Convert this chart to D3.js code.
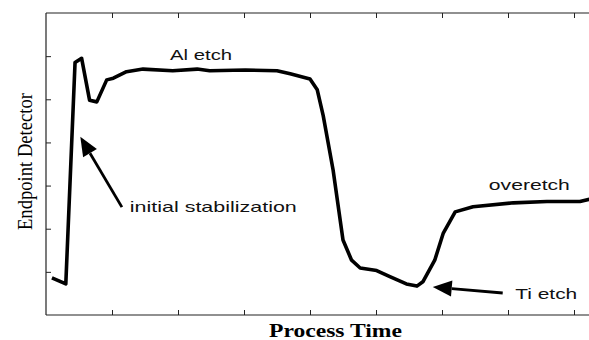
<!DOCTYPE html>
<html>
<head>
<meta charset="utf-8">
<script src="https://cdn.jsdelivr.net/npm/d3@7"></script>
<style>
  html, body { margin: 0; padding: 0; background: #fff; }
  svg { display: block; }
</style>
</head>
<body>
<div id="chart"></div>
<script>
// время процесса (условные единицы) и сигнал детектора
const times = [0.9, 3.0, 4.4, 5.4, 6.6, 7.7, 9.2, 10.2, 12.2, 14.7, 19.2, 22.9, 24.8, 30.2, 35.0, 37.0, 40.0, 41.1, 42.0,
  43.5, 45.0, 46.3, 47.6, 50.1, 52.1, 54.6, 56.2, 57.1, 58.9, 60.2, 62.0, 64.7, 70.8, 75.9, 80.9, 82.5];
const signal = [0.86, 0.72, 5.85, 5.95, 4.98, 4.94, 5.45, 5.49, 5.64, 5.70, 5.66, 5.70, 5.66, 5.68, 5.66, 5.59, 5.47, 5.22, 4.62,
  3.36, 1.74, 1.27, 1.09, 1.03, 0.89, 0.72, 0.67, 0.77, 1.27, 1.90, 2.39, 2.51, 2.60, 2.63, 2.63, 2.69];
const xTicks = [10, 20, 30, 40, 50, 60, 70, 80];
const yTicks = [1, 2, 3, 4, 5, 6];

// подписи: [текст, время, значение]
const notes = [
  ['Al etch', 18.8, 5.91],
  ['initial stabilization', 12.7, 2.39],
  ['overetch', 67.1, 2.90],
  ['Ti etch', 71.1, 0.37]
];
// стрелки: [хвост t, хвост v, острие t, острие v]
const arrows = [
  [11.5, 2.5, 5.2, 4.13],
  [69.2, 0.51, 58.6, 0.65]
];

const width = 589, height = 340;
// в оригинале текст растянут по горизонтали
const noteWidths = [62, 167, 81, 62];

const svg = d3.select('#chart').append('svg')
  .attr('width', width).attr('height', height);

const x = d3.scaleLinear().domain([0, 82.5]).range([46, 46 + 66 * 8.25]);
const y = d3.scaleLinear().domain([0, 7]).range([315, 13]);

// рамка
const frame = svg.append('g').attr('stroke', '#222').attr('stroke-width', 1.2);
frame.append('line').attr('x1', x(0)).attr('x2', width).attr('y1', y(0)).attr('y2', y(0));
frame.append('line').attr('x1', x(0)).attr('x2', width).attr('y1', y(7)).attr('y2', y(7));
frame.append('line').attr('x1', x(0)).attr('x2', x(0)).attr('y1', y(0)).attr('y2', y(7));

// засечки внутрь
svg.append('g').attr('transform', `translate(0,${y(0)})`)
  .call(d3.axisBottom(x).tickValues(xTicks).tickSize(-5).tickSizeOuter(0).tickFormat(''))
  .call(g => g.select('.domain').remove());
svg.append('g').attr('transform', `translate(0,${y(7)})`)
  .call(d3.axisTop(x).tickValues(xTicks).tickSize(-5).tickSizeOuter(0).tickFormat(''))
  .call(g => g.select('.domain').remove());
svg.append('g').attr('transform', `translate(${x(0)},0)`)
  .call(d3.axisLeft(y).tickValues(yTicks).tickSize(-5).tickSizeOuter(0).tickFormat(''))
  .call(g => g.select('.domain').remove());
svg.selectAll('.tick line').attr('stroke', '#222');

// кривая
const data = times.map((t, i) => ({ t: t, v: signal[i] }));
const line = d3.line().x(d => x(d.t)).y(d => y(d.v)).curve(d3.curveLinear);
svg.append('path').datum(data)
  .attr('d', line)
  .attr('fill', 'none')
  .attr('stroke', '#000')
  .attr('stroke-width', 3.6)
  .attr('stroke-linejoin', 'round');

// подписи
svg.selectAll('.note').data(notes).enter().append('text')
  .attr('class', 'note')
  .attr('x', d => x(d[1]))
  .attr('y', d => y(d[2]))
  .attr('font-family', 'Liberation Sans, Arial, sans-serif')
  .attr('font-size', 14.5)
  .attr('fill', '#111')
  .attr('textLength', (d, i) => noteWidths[i])
  .attr('lengthAdjust', 'spacingAndGlyphs')
  .text(d => d[0]);

// стрелки
arrows.forEach(a => {
  const x1 = x(a[0]), y1 = y(a[1]), x2 = x(a[2]), y2 = y(a[3]);
  const ang = Math.atan2(y2 - y1, x2 - x1);
  const len = 19, half = 8;
  const bx = x2 - len * Math.cos(ang), by = y2 - len * Math.sin(ang);
  svg.append('line')
    .attr('x1', x1).attr('y1', y1).attr('x2', bx).attr('y2', by)
    .attr('stroke', '#000').attr('stroke-width', 2.8);
  const pts = [
    [x2, y2],
    [bx + half * Math.sin(ang), by - half * Math.cos(ang)],
    [bx - half * Math.sin(ang), by + half * Math.cos(ang)]
  ];
  svg.append('path').attr('d', 'M' + pts.join('L') + 'Z').attr('fill', '#000');
});

// подписи осей
svg.append('text')
  .attr('x', 269).attr('y', 337)
  .attr('font-family', 'Liberation Serif, Times New Roman, serif')
  .attr('font-weight', 'bold')
  .attr('font-size', 18)
  .attr('textLength', 133)
  .attr('lengthAdjust', 'spacingAndGlyphs')
  .text('Process Time');
svg.append('text')
  .attr('transform', 'translate(32,230) rotate(-90)')
  .attr('font-family', 'Liberation Serif, Times New Roman, serif')
  .attr('font-size', 22)
  .attr('textLength', 137)
  .attr('lengthAdjust', 'spacingAndGlyphs')
  .text('Endpoint Detector');
</script>
</body>
</html>
